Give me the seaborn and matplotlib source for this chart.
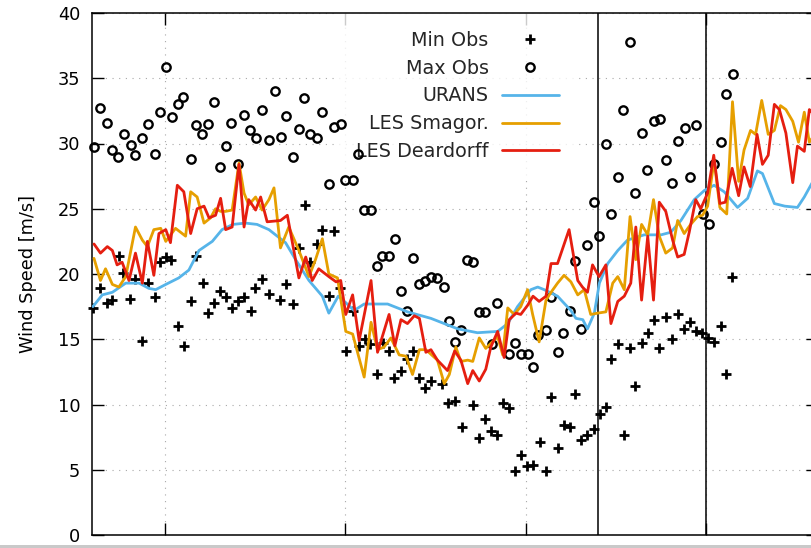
import matplotlib
matplotlib.use("Agg")
import matplotlib.pyplot as plt
import seaborn as sns

# ---- observations (time in hours, wind speed in m/s) ----
max_obs_t = [0.02, 0.19, 0.38, 0.53, 0.70, 0.85, 1.05, 1.18, 1.37, 1.52, 1.71, 1.86,
             2.04, 2.19, 2.36, 2.51, 2.71, 2.86, 3.03, 3.18, 3.37, 3.52, 3.70, 3.84,
             4.03, 4.19, 4.35, 4.53, 4.70, 4.87, 5.04, 5.21, 5.35, 5.55, 5.70, 5.86,
             6.02, 6.20, 6.35, 6.54, 6.68, 6.87, 6.99, 7.21, 7.35, 7.51, 7.70, 7.87,
             8.01, 8.21, 8.37, 8.53, 8.72, 8.88, 9.05, 9.21, 9.38, 9.54, 9.72, 9.86,
             10.05, 10.20, 10.38, 10.54, 10.70, 10.87, 11.05, 11.19, 11.54, 11.71,
             11.87, 12.05, 12.20, 12.34, 12.57, 12.71, 12.90, 13.04, 13.22, 13.37,
             13.54, 13.70, 13.90, 14.04, 14.23, 14.37, 14.55, 14.70, 14.89, 15.04,
             15.23, 15.36, 15.55, 15.71, 15.88, 16.04, 16.22, 16.40, 16.56, 16.72,
             16.90, 17.08, 17.21, 17.40, 17.56, 17.73]
max_obs_v = [29.7, 32.7, 31.6, 29.5, 29.0, 30.7, 29.9, 29.1, 30.4, 31.5, 29.2, 32.4,
             35.9, 32.0, 33.0, 33.6, 28.8, 31.4, 30.7, 31.5, 33.2, 28.2, 29.8, 31.6,
             28.4, 32.2, 31.0, 30.4, 32.6, 30.3, 34.0, 30.5, 32.1, 29.0, 31.1, 33.5,
             30.7, 30.4, 32.4, 26.9, 31.3, 31.5, 27.2, 27.2, 29.2, 24.9, 24.9, 20.6,
             21.4, 21.4, 22.7, 18.7, 17.2, 21.2, 19.2, 19.5, 19.8, 19.7, 19.0, 16.4,
             14.8, 15.7, 21.1, 20.9, 17.1, 17.1, 14.6, 17.8, 13.9, 14.7,
             13.9, 13.9, 12.9, 15.3, 15.7, 18.2, 14.0, 15.5, 17.2, 21.0,
             15.8, 22.2, 25.5, 22.9, 30.0, 24.6, 27.4, 32.6, 37.8, 26.2,
             30.8, 28.0, 31.7, 31.9, 28.7, 27.0, 30.2, 31.2, 27.4, 31.4,
             24.6, 23.8, 28.4, 30.1, 33.8, 35.3]

min_obs_t = [0.00, 0.19, 0.38, 0.53, 0.72, 0.83, 1.03, 1.18, 1.37, 1.52, 1.71, 1.86,
             2.02, 2.17, 2.35, 2.52, 2.71, 2.85, 3.04, 3.18, 3.37, 3.52, 3.69, 3.85,
             4.03, 4.19, 4.37, 4.50, 4.69, 4.89, 5.20, 5.36, 5.55, 5.70, 5.88, 6.03,
             6.21, 6.36, 6.54, 6.69, 6.85, 7.01, 7.21, 7.37, 7.53, 7.69, 7.87, 8.03,
             8.21, 8.35, 8.54, 8.72, 8.87, 9.05, 9.21, 9.37, 9.69, 9.85, 10.04, 10.22,
             10.53, 10.71, 10.87, 11.03, 11.19, 11.37, 11.54, 11.71, 11.86, 12.04,
             12.19, 12.38, 12.57, 12.71, 12.90, 13.05, 13.22, 13.37, 13.54, 13.71,
             13.88, 14.05, 14.22, 14.36, 14.56, 14.71, 14.89, 15.04, 15.22, 15.38,
             15.56, 15.70, 15.88, 16.04, 16.22, 16.39, 16.56, 16.72, 16.89, 17.06,
             17.22, 17.41, 17.55, 17.72]
min_obs_v = [17.4, 18.9, 17.8, 18.0, 21.4, 20.1, 18.1, 19.6, 14.9, 19.3, 18.2, 20.9,
             21.3, 21.1, 16.0, 14.5, 17.9, 21.4, 19.3, 17.0, 17.8, 18.7, 18.2, 17.4,
             17.9, 18.2, 17.2, 18.9, 19.6, 18.5, 18.0, 19.2, 17.7, 22.0, 25.3, 20.9,
             22.3, 23.4, 18.3, 23.3, 18.9, 14.1, 17.2, 14.5, 15.0, 14.6, 12.3, 14.7,
             14.1, 12.0, 12.6, 13.5, 14.1, 12.0, 11.3, 11.8, 11.6, 10.1, 10.3, 8.3,
             10.0, 7.4, 8.9, 8.0, 7.7, 10.1, 9.7, 4.9, 6.1, 5.3,
             5.4, 7.1, 4.9, 10.6, 6.7, 8.4, 8.3, 10.8, 7.3, 7.7,
             8.1, 9.3, 9.8, 13.5, 14.6, 7.7, 14.3, 11.4, 14.7, 15.5,
             16.5, 14.3, 16.7, 15.0, 16.9, 15.8, 16.3, 15.6, 15.5, 15.1,
             14.8, 16.0, 12.3, 19.8]

# ---- model runs ----
urans_t = [0.00, 0.26, 0.54, 0.91, 1.28, 1.55, 1.74, 2.02, 2.38, 2.66, 2.94, 3.31,
           3.58, 3.88, 4.23, 4.55, 4.88, 5.34, 5.62, 5.99, 6.36, 6.54, 6.80, 7.01,
           7.24, 7.52, 8.17, 8.72, 9.37, 10.11, 10.66, 11.22, 11.50, 11.77, 12.14,
           12.33, 12.51, 12.88, 13.25, 13.39, 13.58, 13.71, 13.90, 14.04, 14.27,
           14.55, 14.82, 15.28, 15.75, 16.02, 16.30, 16.67, 16.95, 17.22, 17.50,
           17.87, 18.15, 18.42, 18.56, 18.89, 19.18, 19.53, 19.72, 19.96]
urans_v = [17.5, 18.4, 18.6, 19.3, 19.3, 18.9, 18.8, 19.2, 19.7, 20.3, 21.8, 22.5,
           23.4, 23.8, 23.9, 23.8, 23.4, 22.4, 21.1, 19.5, 18.3, 17.0, 18.3, 17.8,
           17.2, 17.7, 17.7, 17.1, 16.6, 15.8, 15.5, 15.6, 16.2, 17.5, 18.8,
           19.0, 18.8, 18.3, 17.2, 16.6, 16.5, 15.8, 17.0, 19.3, 20.8,
           21.8, 22.6, 23.0, 23.0, 23.2, 24.1, 25.7, 26.4, 26.8, 26.3,
           25.1, 25.8, 27.9, 27.7, 25.4, 25.2, 25.1, 25.9, 27.1]

smag_t = [0.03, 0.21, 0.35, 0.54, 0.72, 0.91, 1.18, 1.37, 1.51, 1.69, 1.88, 2.02,
          2.29, 2.57, 2.71, 2.89, 3.08, 3.26, 3.40, 3.54, 3.68, 3.86, 4.05, 4.19,
          4.32, 4.51, 4.69, 4.88, 5.02, 5.20, 5.43, 5.71, 5.99, 6.17, 6.36, 6.54,
          6.78, 7.01, 7.20, 7.52, 7.71, 7.89, 8.07, 8.26, 8.49, 8.68, 8.86, 9.05,
          9.23, 9.55, 9.74, 9.88, 10.06, 10.20, 10.39, 10.53, 10.71, 10.89, 11.22,
          11.36, 11.50, 11.68, 11.86, 12.05, 12.19, 12.37, 12.56, 12.70, 12.88,
          13.06, 13.25, 13.44, 13.62, 13.80, 13.99, 14.22, 14.41, 14.55, 14.73,
          14.89, 15.05, 15.21, 15.38, 15.54, 15.70, 15.88, 16.07, 16.21, 16.39,
          16.57, 16.76, 16.90, 17.04, 17.22, 17.38, 17.57, 17.73, 17.90, 18.05,
          18.23, 18.37, 18.54, 18.72, 18.89, 19.06, 19.21, 19.40, 19.56, 19.72,
          19.86, 19.96]
smag_v = [21.2, 19.5, 20.4, 19.2, 19.0, 19.8, 23.6, 22.6, 22.1, 23.4, 23.5, 22.5,
          23.5, 22.9, 26.3, 25.9, 23.9, 24.3, 25.0, 24.8, 24.8, 24.9, 28.5, 26.2,
          25.3, 25.9, 24.9, 25.7, 26.6, 22.0, 23.6, 21.8, 19.8, 21.1, 22.7, 20.0,
          19.7, 15.6, 15.4, 12.1, 16.3, 14.2, 14.4, 15.1, 13.8, 13.7, 12.3, 14.2,
          14.2, 13.4, 11.6, 12.3, 14.4, 13.3, 13.4, 13.3, 15.1, 14.3, 15.2,
          13.8, 17.4, 16.9, 17.5, 18.8, 16.9, 14.8, 18.0, 18.6, 19.3,
          19.9, 19.4, 18.4, 18.8, 16.9, 17.0, 17.1, 19.3, 19.8, 18.8,
          24.4, 21.1, 23.8, 23.0, 25.7, 22.9, 21.6, 22.0, 24.1, 23.1,
          23.8, 24.4, 24.5, 25.2, 28.7, 25.1, 24.6, 33.2, 27.1, 29.5,
          31.0, 30.7, 33.3, 30.7, 31.0, 32.9, 32.6, 31.7, 30.1, 32.4,
          30.1, 30.5]

dear_t = [0.03, 0.21, 0.40, 0.54, 0.67, 0.81, 1.00, 1.18, 1.37, 1.51, 1.69, 1.83,
          2.02, 2.15, 2.34, 2.52, 2.71, 2.89, 3.08, 3.22, 3.40, 3.54, 3.68, 3.86,
          4.05, 4.19, 4.32, 4.51, 4.65, 4.83, 5.20, 5.39, 5.71, 5.90, 6.08, 6.26,
          6.54, 6.74, 6.87, 7.01, 7.20, 7.38, 7.71, 7.89, 8.21, 8.37, 8.54, 8.72,
          8.91, 9.05, 9.23, 9.37, 9.55, 9.83, 10.03, 10.20, 10.39, 10.53, 10.71,
          10.89, 11.03, 11.22, 11.40, 11.54, 11.73, 11.86, 12.05, 12.20, 12.37,
          12.56, 12.70, 12.88, 13.20, 13.44, 13.57, 13.71, 13.85, 14.03, 14.22,
          14.36, 14.55, 14.73, 14.91, 15.05, 15.21, 15.38, 15.54, 15.70, 15.88,
          16.07, 16.21, 16.39, 16.53, 16.71, 16.85, 17.04, 17.21, 17.38, 17.53,
          17.72, 17.90, 18.05, 18.22, 18.41, 18.56, 18.72, 18.89, 19.03, 19.21,
          19.40, 19.53, 19.72, 19.86, 19.96]
dear_v = [22.3, 21.6, 22.1, 21.8, 20.7, 20.9, 19.5, 21.6, 19.3, 22.5, 19.9, 23.1,
          23.4, 22.4, 26.8, 26.3, 23.1, 25.0, 25.2, 24.3, 24.5, 25.8, 23.4, 23.6,
          28.4, 23.6, 25.7, 24.9, 25.9, 24.0, 24.1, 24.5, 19.7, 21.3, 19.5, 20.4,
          19.8, 19.4, 19.5, 16.9, 18.4, 14.9, 19.5, 14.0, 16.9, 14.5, 16.5, 16.2,
          16.8, 16.6, 14.0, 14.2, 13.4, 12.6, 14.1, 13.4, 11.6, 12.6, 11.8,
          12.7, 14.4, 15.6, 13.6, 16.5, 17.0, 16.9, 17.6, 18.3, 17.9,
          18.3, 20.8, 20.8, 23.4, 19.5, 19.0, 18.6, 20.7, 19.8, 20.7,
          16.2, 17.9, 18.3, 19.3, 23.6, 18.0, 22.9, 18.0, 25.5, 24.8,
          22.6, 21.3, 21.5, 23.2, 25.7, 25.0, 26.2, 29.1, 25.4, 25.5,
          28.1, 26.0, 28.2, 26.7, 30.7, 28.4, 29.1, 33.0, 32.6, 30.8,
          27.0, 29.8, 29.4, 32.6, 32.3]

# reference times marked by solid vertical lines
event_times = [14, 17]

sns.set_theme(style="white")
plt.rcParams["font.family"] = ["DejaVu Sans"]
FS = 12.8
LEG_FS = 13.8

fig = plt.figure(figsize=(8.12, 5.48), dpi=100)
ax = fig.add_axes([92 / 812, 13 / 548, 726 / 812, 522 / 548])

sns.lineplot(x=min_obs_t, y=min_obs_v, ax=ax, estimator=None, sort=False,
             linestyle="", marker="+", markersize=7, mew=2.0, mec="black",
             color="black", label="Min Obs", clip_on=False, zorder=3)
sns.lineplot(x=max_obs_t, y=max_obs_v, ax=ax, estimator=None, sort=False,
             linestyle="", marker="o", markersize=6, mew=1.7, mec="black",
             mfc="none", color="black", label="Max Obs", clip_on=False, zorder=3)
sns.lineplot(x=urans_t, y=urans_v, ax=ax, estimator=None, sort=False,
             color="#56B4E9", linewidth=2.0, label="URANS", zorder=4)
sns.lineplot(x=smag_t, y=smag_v, ax=ax, estimator=None, sort=False,
             color="#E69F00", linewidth=2.0, label="LES Smagor.", zorder=4)
sns.lineplot(x=dear_t, y=dear_v, ax=ax, estimator=None, sort=False,
             color="#E51E10", linewidth=2.0, label="LES Deardorff", zorder=4)

for t in event_times:
    ax.axvline(t, color="black", linewidth=1.1, zorder=2.5)

ax.set_xlim(-0.025, 20.1)
ax.set_ylim(0, 40)
ax.set_xticks([2, 7, 12, 17])
ax.set_xticklabels([])
ax.set_yticks(range(0, 41, 5))
ax.tick_params(axis="both", direction="in", length=8.6, width=1.0,
               color="black", top=True, right=True, bottom=True, left=True)
ax.tick_params(axis="y", labelsize=FS, pad=8.5, labelcolor="black")
ax.set_ylabel("Wind Speed [m/s]", fontsize=FS, labelpad=15, color="black")

ax.set_axisbelow(True)
ax.grid(True, color="#a8a8a8", linestyle=(0, (1, 5)), linewidth=0.8)
for sp in ax.spines.values():
    sp.set_color("black")
    sp.set_linewidth(1.1)

leg = ax.legend(loc="upper right", bbox_to_anchor=(0.668, 1.0),
                borderaxespad=0, borderpad=0.93, markerfirst=False,
                handlelength=3.0, handletextpad=0.68, labelspacing=0.46,
                fontsize=LEG_FS, frameon=True, fancybox=False)
leg.get_frame().set_facecolor("white")
leg.get_frame().set_edgecolor("none")
leg.set_zorder(1.5)

# thin grey border along the bottom edge of the image
fig.add_artist(plt.Rectangle((0, 0), 1, 3 / 548, transform=fig.transFigure,
                             facecolor="#c9c9c9", edgecolor="none"))

fig.savefig("out.png", dpi=100)
